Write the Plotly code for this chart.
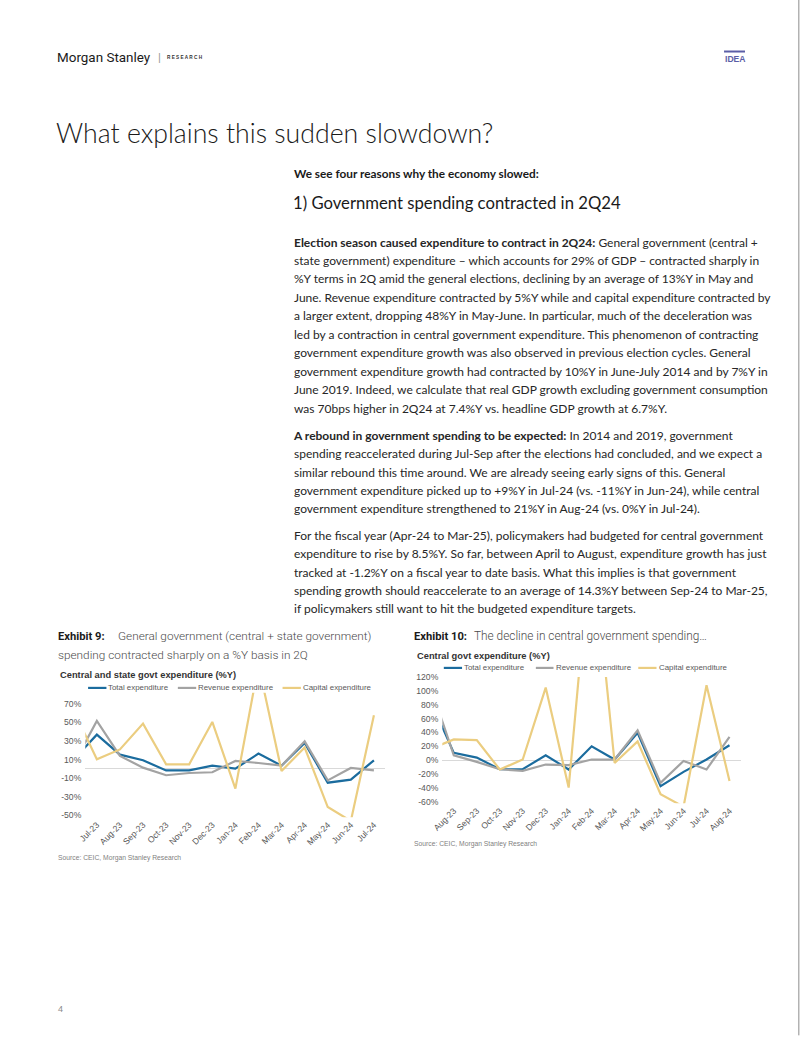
import plotly.graph_objects as go

# ---------------- data ----------------
months1 = ["Jun-23", "Jul-23", "Aug-23", "Sep-23", "Oct-23", "Nov-23", "Dec-23",
           "Jan-24", "Feb-24", "Mar-24", "Apr-24", "May-24", "Jun-24", "Jul-24"]
total1 = [10, 36.9, 15.4, 9.3, -1.6, -1.6, 3.5, 0.3, 16.5, 3.5, 28, -14.8, -11.5, 9.3]
revenue1 = [5.7, 51.6, 14, 1.4, -6.8, -4.4, -3.6, 8.6, 6.4, 3.5, 29.7, -12.3, 1, -1.5]
capital1 = [62.8, 10.4, 21, 48.8, 5, 5, 50.6, -21.2, 112, -2.2, 23, -41, -56, 57.7]

months2 = ["Jul-23", "Aug-23", "Sep-23", "Oct-23", "Nov-23", "Dec-23", "Jan-24",
           "Feb-24", "Mar-24", "Apr-24", "May-24", "Jun-24", "Jul-24", "Aug-24"]
total2 = [85, 10.6, 3.8, -13, -13, 7.2, -13.4, 20, 1, 39.4, -37.4, -16.8, 1, 21.6]
revenue2 = [105, 7, -2.4, -13, -15.4, -6.2, -7, 1, 1, 43, -32.6, -1, -13.4, 33.6]
capital2 = [16.5, 30, 29, -13.4, 1, 104.6, -39.4, 325, -4, 27, -49, -67, 108, -29.8]

series_names = ["Total expenditure", "Revenue expenditure", "Capital expenditure"]
ticks1 = [-50, -30, -10, 10, 30, 50, 70]
ticks2 = [-60, -40, -20, 0, 20, 40, 60, 80, 100, 120]

# ---------------- styling ----------------
W, H = 802, 1037
# the photographed page shows up slightly shrunk and offset; compensate
SX, SY, OX, OY = 0.989, 0.991, 11.0, 5.0
BLUE, GREY, GOLD = "#1b6c9e", "#a3a3a3", "#ebcd80"
colors = [BLUE, GREY, GOLD]
TICKC = "#595959"
CH_FONT = "Liberation Sans"
BODY_FONT = "Lato"


def px(t):
    return ((t - OX) / SX) / W


def py(t):
    return 1 - ((t - OY) / SY) / H


fig = go.Figure()

for vals, name, col in zip([total1, revenue1, capital1], series_names, colors):
    fig.add_trace(go.Scatter(x=months1, y=vals, mode="lines", name=name,
                             line=dict(color=col, width=2.2), xaxis="x", yaxis="y",
                             showlegend=False))
for vals, name, col in zip([total2, revenue2, capital2], series_names, colors):
    fig.add_trace(go.Scatter(x=months2, y=vals, mode="lines", name=name,
                             line=dict(color=col, width=2.2), xaxis="x2", yaxis="y2",
                             showlegend=False))

axis_common = dict(showgrid=False, showline=False, ticks="",
                   tickfont=dict(family=CH_FONT, size=8.6, color=TICKC))

fig.update_layout(
    width=W, height=H, autosize=False,
    margin=dict(l=0, r=0, t=0, b=0),
    paper_bgcolor="white", plot_bgcolor="white",
    xaxis=dict(domain=[px(85.5), px(386.5)], type="category", range=[0.5, 13.5],
               tickangle=-45, anchor="y", **axis_common),
    yaxis=dict(domain=[py(817), py(692.5)], range=[-52, 82], tickvals=ticks1,
               ticktext=[f"{t}%" for t in ticks1], zeroline=True,
               zerolinecolor="#d9d9d9", zerolinewidth=1, anchor="x",
               ticklabelstandoff=3, **axis_common),
    xaxis2=dict(domain=[px(443.5), px(743)], type="category", range=[0.5, 13.5],
                tickangle=-45, anchor="y2", **axis_common),
    yaxis2=dict(domain=[py(803), py(676.7)], range=[-62, 120], tickvals=ticks2,
                ticktext=[f"{t}%" for t in ticks2], zeroline=True,
                zerolinecolor="#d9d9d9", zerolinewidth=1, anchor="x2",
                ticklabelstandoff=3, **axis_common),
)

ann = []
shapes = []


def text(x, y, s, size, color="#222", family=BODY_FONT, anchor="left", weight=None):
    f = dict(family=family, size=size, color=color)
    if weight is not None:
        f["weight"] = weight
    ann.append(dict(x=px(x), y=py(y), xref="paper", yref="paper", text=s,
                    showarrow=False, xanchor=anchor, yanchor="middle", align="left",
                    font=f))


# header
text(55, 57, "Morgan Stanley", 13.45, "#1a1a1a", "Roboto")
text(156, 57, "|", 11, "#999", "Liberation Sans")
text(165, 57.5, "<b>R E S E A R C H</b>", 4.7, "#333", "Liberation Sans")
text(725, 59, "<b>IDEA</b>", 8.6, "#5b5ea6", "Liberation Sans")
shapes.append(dict(type="line", xref="paper", yref="paper", x0=px(726), x1=px(747),
                   y0=py(51.5), y1=py(51.5), line=dict(color="#5b5ea6", width=2)))

# title
text(54, 133, "What explains this sudden slowdown?", 26.7, "#1a1a1a", "Lato", weight=300)

text(293, 173, "<b>We see four reasons why the economy slowed:</b>", 11.8, "#1a1a1a")
text(292, 203, "1) Government spending contracted in 2Q24", 16.7, "#1a1a1a")

para1 = [
    "<b>Election season caused expenditure to contract in 2Q24:</b> General government (central +",
    "state government) expenditure – which accounts for 29% of GDP – contracted sharply in",
    "%Y terms in 2Q amid the general elections, declining by an average of 13%Y in May and",
    "June. Revenue expenditure contracted by 5%Y while and capital expenditure contracted by",
    "a larger extent, dropping 48%Y in May-June. In particular, much of the deceleration was",
    "led by a contraction in central government expenditure. This phenomenon of contracting",
    "government expenditure growth was also observed in previous election cycles. General",
    "government expenditure growth had contracted by 10%Y in June-July 2014 and by 7%Y in",
    "June 2019. Indeed, we calculate that real GDP growth excluding government consumption",
    "was 70bps higher in 2Q24 at 7.4%Y vs. headline GDP growth at 6.7%Y.",
]
para2 = [
    "<b>A rebound in government spending to be expected:</b> In 2014 and 2019, government",
    "spending reaccelerated during Jul-Sep after the elections had concluded, and we expect a",
    "similar rebound this time around. We are already seeing early signs of this. General",
    "government expenditure picked up to +9%Y in Jul-24 (vs. -11%Y in Jun-24), while central",
    "government expenditure strengthened to 21%Y in Aug-24 (vs. 0%Y in Jul-24).",
]
para3 = [
    "For the fiscal year (Apr-24 to Mar-25), policymakers had budgeted for central government",
    "expenditure to rise by 8.5%Y. So far, between April to August, expenditure growth has just",
    "tracked at -1.2%Y on a fiscal year to date basis. What this implies is that government",
    "spending growth should reaccelerate to an average of 14.3%Y between Sep-24 to Mar-25,",
    "if policymakers still want to hit the budgeted expenditure targets.",
]
LH = 18.45
for para, y0, x0 in [(para1, 242, 293), (para2, 435, 292), (para3, 535, 293)]:
    for i, line in enumerate(para):
        text(x0 if i == 0 else 293, y0 + i * LH, line, 12.0, "#262626")

# exhibit captions
text(56, 636, "<b>Exhibit 9:</b>", 11.2, "#1a1a1a", "Roboto")
text(116, 636, "General government (central + state government)", 11.8, "#4a4a4a", "Roboto", weight=300)
text(56, 654.5, "spending contracted sharply on a %Y basis in 2Q", 11.8, "#4a4a4a", "Roboto", weight=300)
text(413, 636, "<b>Exhibit 10:</b>", 11.2, "#1a1a1a", "Roboto")
text(473, 636, "The decline in central government spending…", 11.85, "#4a4a4a", "Roboto", weight=300)

# chart titles
text(58, 674.5, "<b>Central and state govt expenditure (%Y)</b>", 9.3, "#333", CH_FONT)
text(416, 656, "<b>Central govt expenditure (%Y)</b>", 9.3, "#333", CH_FONT)


# legends
def legend(y, items):
    for (x0, x1, tx), name, col in zip(items, series_names, colors):
        shapes.append(dict(type="line", xref="paper", yref="paper", x0=px(x0), x1=px(x1),
                           y0=py(y), y1=py(y), line=dict(color=col, width=2.2)))
        text(tx, y, name, 7.9, TICKC, CH_FONT)


legend(687.7, [(88.3, 106.7, 106.5), (178.3, 196.7, 196.5), (283.3, 301.7, 301.5)])
legend(667.7, [(445, 463.3, 463.5), (537.3, 555, 555), (640, 658.3, 658.3)])

# sources
text(56, 857.5, "Source: CEIC, Morgan Stanley Research", 6.75, "#7f7f7f", CH_FONT)
text(413, 844, "Source: CEIC, Morgan Stanley Research", 6.75, "#7f7f7f", CH_FONT)

# page number
text(56, 1009, "4", 9, "#8a8a8a", CH_FONT)

# right page edge
shapes.append(dict(type="line", xref="paper", yref="paper", x0=px(801), x1=px(801),
                   y0=py(1035), y1=py(0), line=dict(color="#8c8c8c", width=1)))

fig.update_layout(annotations=ann, shapes=shapes)

fig.write_html("out.html", config={"displayModeBar": False},
               post_script="document.body.style.margin='0';document.body.style.overflow='hidden';")
